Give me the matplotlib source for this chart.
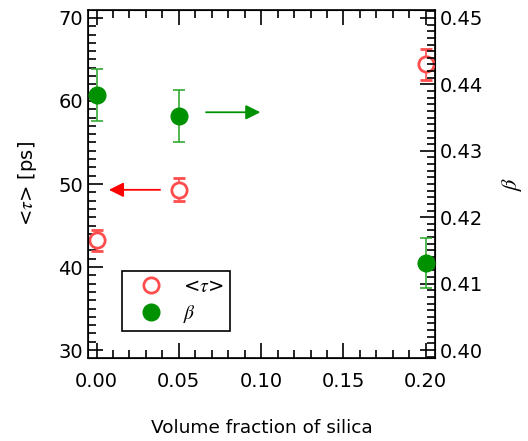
import matplotlib.pyplot as plt
from matplotlib.lines import Line2D
from matplotlib.ticker import MultipleLocator

# data
silica = [0.0, 0.05, 0.2]
tau = [43.2, 49.3, 64.4]
tau_err = [1.25, 1.4, 1.9]
beta = [0.4384, 0.4352, 0.4131]
beta_err = [0.0039, 0.0039, 0.0038]

plt.rcParams['font.family'] = 'DejaVu Sans'
plt.rcParams['mathtext.fontset'] = 'stix'

red = '#ff4d4d'
green = '#009100'
green_err = '#33aa33'

fig = plt.figure(figsize=(5.28, 4.41), dpi=100)
ax = fig.add_axes([88 / 528, 1 - 358 / 441, (434.7 - 88) / 528, (358 - 10) / 441])
ax2 = ax.twinx()

ax.errorbar(silica, tau, yerr=tau_err, fmt='o', mfc='white', mec=red, mew=2,
            ms=11, ecolor=red, elinewidth=1.2, capsize=4, capthick=1.2, zorder=3)
ax2.errorbar(silica, beta, yerr=beta_err, fmt='o', mfc=green, mec=green,
             ms=12, ecolor=green_err, elinewidth=1.2, capsize=4, capthick=1.2, zorder=3)

ax.set_xlim(-0.0052, 0.2054)
ax.set_ylim(29.04, 70.96)
ax2.set_ylim(0.39880, 0.45120)

# arrows telling which axis each series uses
ax.annotate('', xy=(0.0075, 49.3), xytext=(0.0386, 49.3),
            arrowprops=dict(arrowstyle='-|>', color='red', lw=1.3,
                            mutation_scale=22, shrinkA=0, shrinkB=0))
ax2.annotate('', xy=(0.0995, 0.4358), xytext=(0.0665, 0.4358),
             arrowprops=dict(arrowstyle='-|>', color=green, lw=1.3,
                             mutation_scale=22, shrinkA=0, shrinkB=0))

ax.xaxis.set_major_locator(MultipleLocator(0.05))
ax.xaxis.set_minor_locator(MultipleLocator(0.01))
ax.yaxis.set_major_locator(MultipleLocator(10))
ax.yaxis.set_minor_locator(MultipleLocator(1))
ax2.yaxis.set_major_locator(MultipleLocator(0.01))
ax2.yaxis.set_minor_locator(MultipleLocator(0.001))
ax.xaxis.set_major_formatter(plt.FormatStrFormatter('%.2f'))
ax2.yaxis.set_major_formatter(plt.FormatStrFormatter('%.2f'))

ax.tick_params(which='both', direction='in', top=True, labelsize=14, width=1.2)
ax.tick_params(which='major', length=11)
ax.tick_params(which='minor', length=5.5)
ax.tick_params(axis='y', which='both', right=False)
ax.tick_params(axis='x', pad=10)
ax2.tick_params(which='both', direction='in', labelsize=14, width=1.2)
ax2.tick_params(which='major', length=11)
ax2.tick_params(which='minor', length=5.5)
for sp in ax.spines.values():
    sp.set_linewidth(1.2)

ax.set_xlabel('Volume fraction of silica', fontsize=13.3, labelpad=20)
ax.set_ylabel(r'<$\tau$> [ps]', fontsize=14, labelpad=14)
ax2.set_ylabel(r'$\beta$', fontsize=16, labelpad=12)

handles = [
    Line2D([], [], ls='none', marker='o', mfc='white', mec=red, mew=2, ms=11),
    Line2D([], [], ls='none', marker='o', mfc=green, mec=green, ms=12),
]
leg = ax2.legend(handles, [r'<$\tau$>', r'$\beta$'], loc='lower left',
                 bbox_to_anchor=(0.098, 0.078), borderaxespad=0, fontsize=14,
                 frameon=True, fancybox=False, edgecolor='black', framealpha=1,
                 handlelength=2.4, handletextpad=0.44, borderpad=0.3,
                 labelspacing=0.35)
leg.get_frame().set_linewidth(1.2)

fig.savefig('out.png', dpi=100)
